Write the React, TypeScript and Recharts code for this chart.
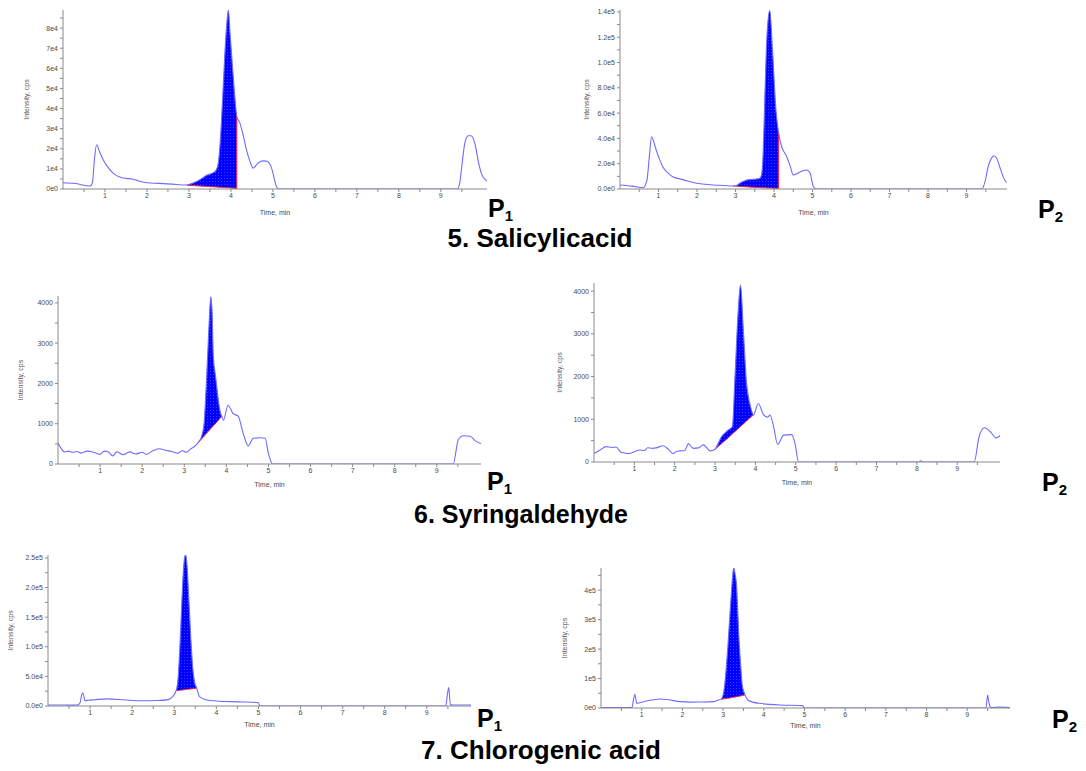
import React from 'react';
import {
  ComposedChart,
  Line,
  Area,
  XAxis,
  YAxis,
  ReferenceLine
} from 'recharts';

// ---- 5. Salicylic acid, P1
const salP1Time = [0, 0.3, 0.5, 0.65, 0.7, 0.75, 0.8, 0.88, 0.96, 1.1, 1.2, 1.35, 1.5, 1.65, 1.8, 2.0, 2.3, 2.6, 2.95, 3.1, 3.26, 3.42, 3.57, 3.65, 3.7, 3.75, 3.8, 3.85, 3.89, 3.94, 3.98, 4.04, 4.1, 4.14, 4.21, 4.3, 4.37, 4.45, 4.53, 4.61, 4.69, 4.78, 4.88, 4.95, 5.0, 5.05, 5.1, 5.14, 9.4, 9.45, 9.52, 9.57, 9.65, 9.72, 9.81, 9.9, 9.97, 10.05, 10.1];
const salP1Signal = [3100, 2700, 1900, 1500, 3000, 15000, 22000, 18000, 14400, 10000, 7800, 6000, 5300, 5000, 4000, 3100, 2800, 2400, 2000, 3000, 4600, 6800, 8000, 9500, 13000, 25000, 44000, 65000, 79000, 89000, 77000, 60000, 44000, 36000, 33000, 26000, 19400, 14000, 10400, 12000, 13600, 14000, 13600, 11500, 8000, 3500, 600, 0, 0, 3000, 15000, 22700, 26500, 26500, 22700, 13000, 7500, 4800, 4100];
const salP1PeakTime = [2.95, 3.1, 3.26, 3.42, 3.57, 3.65, 3.7, 3.75, 3.8, 3.85, 3.89, 3.94, 3.98, 4.04, 4.1, 4.14];
const salP1PeakBase = [1900, 1700, 1500, 1300, 1100, 1000, 900, 850, 800, 700, 650, 600, 500, 400, 300, 200];
const salP1Ticks = [0, 10000, 20000, 30000, 40000, 50000, 60000, 70000, 80000];
const salP1Labels = ['0e0', '1e4', '2e4', '3e4', '4e4', '5e4', '6e4', '7e4', '8e4'];

// ---- 5. Salicylic acid, P2
const salP2Time = [0, 0.3, 0.6, 0.7, 0.76, 0.82, 0.88, 0.94, 1.02, 1.11, 1.25, 1.37, 1.55, 1.72, 1.98, 2.2, 2.42, 2.7, 2.94, 3.05, 3.11, 3.24, 3.35, 3.46, 3.63, 3.68, 3.72, 3.76, 3.82, 3.89, 3.96, 4.05, 4.12, 4.2, 4.33, 4.42, 4.5, 4.62, 4.75, 4.85, 4.94, 5.02, 5.11, 9.4, 9.48, 9.56, 9.64, 9.71, 9.78, 9.86, 9.99, 10.04];
const salP2Signal = [3200, 2300, 1000, 7100, 25000, 41300, 37000, 30800, 24000, 17600, 12500, 9700, 8000, 6600, 4500, 3800, 3200, 2800, 2400, 3200, 4500, 6600, 7400, 7600, 8400, 12000, 30000, 70400, 123000, 141000, 110000, 62500, 44000, 33400, 25500, 18000, 11100, 12500, 14500, 15000, 12300, 2000, 0, 0, 6000, 17600, 24000, 26300, 24500, 17600, 7100, 5000];
const salP2PeakTime = [2.94, 3.05, 3.11, 3.24, 3.35, 3.46, 3.63, 3.68, 3.72, 3.76, 3.82, 3.89, 3.96, 4.05, 4.12];
const salP2PeakBase = [2400, 2200, 2000, 1800, 1600, 1400, 1100, 1000, 950, 900, 800, 700, 550, 400, 300];
const salP2Ticks = [0, 20000, 40000, 60000, 80000, 100000, 120000, 140000];
const salP2Labels = ['0.0e0', '2.0e4', '4.0e4', '6.0e4', '8.0e4', '1.0e5', '1.2e5', '1.4e5'];

// ---- 6. Syringaldehyde, P1
const syrP1Time = [0, 0.08, 0.15, 0.25, 0.35, 0.45, 0.55, 0.7, 0.85, 1.0, 1.1, 1.2, 1.3, 1.4, 1.55, 1.7, 1.85, 2.0, 2.1, 2.25, 2.4, 2.55, 2.7, 2.85, 2.95, 3.05, 3.15, 3.25, 3.35, 3.41, 3.47, 3.52, 3.56, 3.6, 3.63, 3.66, 3.69, 3.74, 3.78, 3.82, 3.86, 3.89, 3.93, 4.04, 4.16, 4.28, 4.4, 4.52, 4.64, 4.8, 4.92, 5.0, 5.1, 9.39, 9.51, 9.63, 9.79, 9.91, 10.05];
const syrP1Signal = [520, 380, 300, 320, 290, 310, 270, 320, 290, 240, 320, 300, 200, 300, 230, 300, 250, 290, 240, 330, 380, 340, 310, 270, 330, 290, 370, 440, 560, 680, 1000, 1900, 2800, 3700, 4150, 3800, 2660, 2200, 1840, 1500, 1270, 1180, 1090, 1460, 1250, 1190, 760, 450, 640, 650, 640, 260, 0, 0, 600, 700, 690, 580, 500];
const syrP1PeakTime = [3.25, 3.35, 3.41, 3.47, 3.52, 3.56, 3.6, 3.63, 3.66, 3.69, 3.74, 3.78, 3.82, 3.86, 3.89];
const syrP1PeakBase = [440, 550, 620, 690, 750, 800, 840, 880, 910, 950, 1000, 1050, 1100, 1140, 1180];
const syrTicks = [0, 1000, 2000, 3000, 4000];
const syrLabels = ['0', '1000', '2000', '3000', '4000'];

// ---- 6. Syringaldehyde, P2
const syrP2Time = [0, 0.15, 0.3, 0.45, 0.55, 0.67, 0.88, 1.0, 1.13, 1.25, 1.33, 1.45, 1.54, 1.71, 1.85, 1.96, 2.05, 2.13, 2.25, 2.34, 2.46, 2.59, 2.71, 2.88, 3.0, 3.16, 3.33, 3.43, 3.49, 3.57, 3.63, 3.7, 3.78, 3.86, 3.95, 4.07, 4.2, 4.3, 4.36, 4.45, 4.55, 4.7, 4.9, 4.98, 5.07, 8.05, 8.1, 8.15, 9.42, 9.54, 9.67, 9.84, 9.96, 10.06];
const syrP2Signal = [200, 280, 360, 340, 350, 230, 200, 240, 280, 270, 335, 320, 330, 380, 290, 200, 250, 260, 270, 430, 320, 330, 400, 260, 300, 590, 750, 830, 1920, 3480, 4140, 3090, 1840, 1370, 1100, 1370, 1110, 1050, 1100, 830, 410, 630, 640, 430, 0, 0, 30, 0, 0, 585, 800, 690, 560, 620];
const syrP2PeakTime = [3.0, 3.16, 3.33, 3.43, 3.49, 3.57, 3.63, 3.7, 3.78, 3.86, 3.95];
const syrP2PeakBase = [300, 430, 570, 660, 710, 780, 830, 890, 960, 1030, 1100];

// ---- 7. Chlorogenic acid, P1
const chlP1Time = [0, 0.4, 0.7, 0.76, 0.8, 0.83, 0.88, 0.96, 1.1, 1.4, 1.8, 2.2, 2.6, 2.85, 2.95, 3.05, 3.1, 3.14, 3.17, 3.21, 3.24, 3.27, 3.3, 3.35, 3.39, 3.44, 3.49, 3.53, 3.6, 3.7, 3.8, 4.0, 4.5, 4.95, 5.0, 5.03, 9.45, 9.49, 9.52, 9.56, 9.6, 10.05];
const chlP1Signal = [1600, 1600, 1500, 5000, 19000, 22000, 9000, 9800, 10500, 12000, 10500, 8800, 9200, 10800, 15000, 27000, 55000, 110000, 159000, 220000, 248000, 256000, 240000, 175000, 118000, 64000, 38000, 31000, 15700, 12000, 9800, 8500, 7000, 6000, 5500, 0, 0, 20000, 31000, 2500, 1600, 1600];
const chlP1PeakTime = [3.05, 3.1, 3.14, 3.17, 3.21, 3.24, 3.27, 3.3, 3.35, 3.39, 3.44, 3.49, 3.53];
const chlP1PeakBase = [26000, 26300, 26600, 26900, 27200, 27500, 27800, 28100, 28500, 28800, 29200, 29600, 30000];
const chlP1Ticks = [0, 50000, 100000, 150000, 200000, 250000];
const chlP1Labels = ['0.0e0', '5.0e4', '1.0e5', '1.5e5', '2.0e5', '2.5e5'];

// ---- 7. Chlorogenic acid, P2
const chlP2Time = [0, 0.4, 0.76, 0.8, 0.83, 0.88, 0.95, 1.12, 1.3, 1.45, 1.65, 1.94, 2.2, 2.43, 2.76, 2.88, 2.96, 3.04, 3.08, 3.12, 3.16, 3.2, 3.23, 3.26, 3.3, 3.33, 3.36, 3.39, 3.43, 3.47, 3.53, 3.61, 3.75, 3.9, 4.39, 4.96, 4.99, 9.46, 9.5, 9.53, 9.56, 9.6, 9.79, 10.05];
const chlP2Signal = [1500, 1500, 1500, 30000, 46400, 15900, 18000, 23700, 28000, 30500, 28000, 21500, 20000, 20300, 21500, 27100, 31000, 78000, 140000, 214000, 300000, 383000, 440000, 476000, 450000, 417000, 330000, 236000, 150000, 78000, 48000, 27000, 19000, 15900, 10200, 8000, 0, 0, 44000, 20000, 4500, 1500, 3000, 1500];
const chlP2PeakTime = [2.96, 3.04, 3.08, 3.12, 3.16, 3.2, 3.23, 3.26, 3.3, 3.33, 3.36, 3.39, 3.43, 3.47, 3.53];
const chlP2PeakBase = [30000, 31500, 32200, 33000, 34000, 35000, 35500, 36500, 37500, 38500, 39000, 40000, 41000, 42000, 44000];
const chlP2Ticks = [0, 100000, 200000, 300000, 400000];
const chlP2Labels = ['0e0', '1e5', '2e5', '3e5', '4e5'];

// shared time axis
const timeTicks = [0.5, 1, 1.5, 2, 2.5, 3, 3.5, 4, 4.5, 5, 5.5, 6, 6.5, 7, 7.5, 8, 8.5, 9, 9.5];

// compound captions
const captions = ['5. Salicylicacid', '6. Syringaldehyde', '7. Chlorogenic acid'];

const TICK_FONT = "'Liberation Sans Narrow', 'Liberation Sans', Arial, sans-serif";
const TRACE = '#6c6cff';
const BASE_RED = '#ff1f3a';

interface Box {
  left: number;
  plotLeft: number;
  plotRight: number;
  plotTop: number;
  plotBottom: number;
  yLabelX: number;
  xLabelDy: number;
}

interface PanelProps {
  id: string;
  time: number[];
  signal: number[];
  peakTime: number[];
  peakBase: number[];
  closeEnd: boolean;
  xMax: number;
  yMax: number;
  yTicks: number[];
  yLabels: string[];
  box: Box;
}

const Panel: React.FC<PanelProps> = ({
  id, time, signal, peakTime, peakBase, closeEnd, xMax, yMax, yTicks, yLabels, box
}) => {
  const rows = time.map((t, i) => {
    const k = peakTime.indexOf(t);
    const base = k >= 0 ? peakBase[k] : null;
    return { t, signal: signal[i], base, band: base === null ? null : [base, signal[i]] };
  });

  // half-step minor ticks between the labelled ones
  const step = yTicks[1] - yTicks[0];
  const allYTicks: number[] = [];
  yTicks.forEach(v => {
    allYTicks.push(v);
    if (v + step / 2 <= yMax) allYTicks.push(v + step / 2);
  });

  const lastT = peakTime[peakTime.length - 1];
  const lastBase = peakBase[peakBase.length - 1];
  const lastTop = signal[time.indexOf(lastT)];

  const marginTop = 4;
  const marginRight = 8;
  const axisH = 30;
  const top = box.plotTop - marginTop;
  const width = box.plotRight + marginRight - box.left;
  const height = box.plotBottom - top + axisH;

  return (
    <div style={{ position: 'absolute', left: box.left, top, width, height }}>
      <ComposedChart
        width={width}
        height={height}
        data={rows}
        margin={{ top: marginTop, right: marginRight, left: 0, bottom: 0 }}
        style={{ fontFamily: TICK_FONT }}
      >
        <defs>
          <pattern id={`dots-${id}`} width={3} height={3} patternUnits="userSpaceOnUse">
            <rect width={3} height={3} fill="#0000ff" />
            <circle cx={1.5} cy={1.5} r={0.45} fill="#7a7aff" />
          </pattern>
        </defs>
        <XAxis
          dataKey="t"
          type="number"
          domain={[0, xMax]}
          ticks={timeTicks}
          tickFormatter={(v: number) => (Number.isInteger(v) ? String(v) : '')}
          allowDataOverflow
          height={axisH}
          tickSize={3}
          tickMargin={1}
          axisLine={{ stroke: '#8a8a8a' }}
          tickLine={{ stroke: '#8a8a8a' }}
          tick={{ fontSize: 7, fill: '#4a4a4a' }}
          label={{
            value: 'Time, min',
            position: 'insideBottom',
            offset: axisH - box.xLabelDy,
            fontSize: 7,
            fill: '#4a4a4a'
          }}
        />
        <YAxis
          type="number"
          domain={[0, yMax]}
          ticks={allYTicks}
          tickFormatter={(v: number) => {
            const k = yTicks.indexOf(v);
            return k >= 0 ? yLabels[k] : '';
          }}
          allowDataOverflow
          width={box.plotLeft - box.left}
          tickSize={3}
          tickMargin={2}
          axisLine={{ stroke: '#8a8a8a' }}
          tickLine={{ stroke: '#8a8a8a' }}
          tick={{ fontSize: 7, fill: '#4a4a4a' }}
          label={{
            value: 'Intensity, cps',
            angle: -90,
            position: 'insideLeft',
            offset: box.yLabelX - box.left,
            fontSize: 7,
            fill: '#5a5a5a',
            style: { textAnchor: 'middle' }
          }}
        />
        <Area
          dataKey="band"
          type="monotone"
          stroke="none"
          fill={`url(#dots-${id})`}
          fillOpacity={1}
          isAnimationActive={false}
        />
        <Line
          dataKey="base"
          type="linear"
          stroke={BASE_RED}
          strokeWidth={1}
          dot={false}
          activeDot={false}
          isAnimationActive={false}
        />
        <Line
          dataKey="signal"
          type="monotone"
          stroke={TRACE}
          strokeWidth={1.1}
          dot={false}
          activeDot={false}
          isAnimationActive={false}
        />
        {closeEnd && (
          <ReferenceLine
            segment={[{ x: lastT, y: lastBase }, { x: lastT, y: lastTop }]}
            stroke={BASE_RED}
            strokeWidth={1}
          />
        )}
      </ComposedChart>
    </div>
  );
};

const PLabel: React.FC<{ x: number; y: number; n: string }> = ({ x, y, n }) => (
  <text x={x} y={y} fontSize={25} fontWeight="bold" fill="#000">
    P<tspan fontSize={15} dy={4}>{n}</tspan>
  </text>
);

const App: React.FC = () => {
  return (
    <div
      style={{
        position: 'absolute',
        left: 0,
        top: 0,
        width: 1086,
        height: 771,
        background: '#fff',
        fontFamily: "'Liberation Sans', Arial, sans-serif"
      }}
    >
      <Panel
        id="a"
        time={salP1Time}
        signal={salP1Signal}
        peakTime={salP1PeakTime}
        peakBase={salP1PeakBase}
        closeEnd
        xMax={10.1}
        yMax={89000}
        yTicks={salP1Ticks}
        yLabels={salP1Labels}
        box={{ left: 10, plotLeft: 63, plotRight: 487, plotTop: 10, plotBottom: 189, yLabelX: 27, xLabelDy: 26 }}
      />
      <Panel
        id="b"
        time={salP2Time}
        signal={salP2Signal}
        peakTime={salP2PeakTime}
        peakBase={salP2PeakBase}
        closeEnd
        xMax={10.05}
        yMax={141500}
        yTicks={salP2Ticks}
        yLabels={salP2Labels}
        box={{ left: 560, plotLeft: 620, plotRight: 1007, plotTop: 10, plotBottom: 189, yLabelX: 587, xLabelDy: 26 }}
      />
      <Panel
        id="c"
        time={syrP1Time}
        signal={syrP1Signal}
        peakTime={syrP1PeakTime}
        peakBase={syrP1PeakBase}
        closeEnd={false}
        xMax={10.05}
        yMax={4170}
        yTicks={syrTicks}
        yLabels={syrLabels}
        box={{ left: 5, plotLeft: 58, plotRight: 481, plotTop: 296, plotBottom: 464, yLabelX: 21, xLabelDy: 23 }}
      />
      <Panel
        id="d"
        time={syrP2Time}
        signal={syrP2Signal}
        peakTime={syrP2PeakTime}
        peakBase={syrP2PeakBase}
        closeEnd={false}
        xMax={10.06}
        yMax={4190}
        yTicks={syrTicks}
        yLabels={syrLabels}
        box={{ left: 540, plotLeft: 594, plotRight: 1000, plotTop: 283, plotBottom: 462, yLabelX: 560, xLabelDy: 23 }}
      />
      <Panel
        id="e"
        time={chlP1Time}
        signal={chlP1Signal}
        peakTime={chlP1PeakTime}
        peakBase={chlP1PeakBase}
        closeEnd={false}
        xMax={10.05}
        yMax={255000}
        yTicks={chlP1Ticks}
        yLabels={chlP1Labels}
        box={{ left: 0, plotLeft: 48, plotRight: 471, plotTop: 555, plotBottom: 706, yLabelX: 11, xLabelDy: 21 }}
      />
      <Panel
        id="f"
        time={chlP2Time}
        signal={chlP2Signal}
        peakTime={chlP2PeakTime}
        peakBase={chlP2PeakBase}
        closeEnd={false}
        xMax={10.05}
        yMax={475000}
        yTicks={chlP2Ticks}
        yLabels={chlP2Labels}
        box={{ left: 540, plotLeft: 601, plotRight: 1010, plotTop: 568, plotBottom: 708, yLabelX: 565, xLabelDy: 20 }}
      />

      <svg
        width={1086}
        height={771}
        style={{ position: 'absolute', left: 0, top: 0, pointerEvents: 'none' }}
      >
        <PLabel x={488} y={217} n="1" />
        <PLabel x={1038} y={218} n="2" />
        <PLabel x={487} y={490} n="1" />
        <PLabel x={1042} y={491} n="2" />
        <PLabel x={477} y={727} n="1" />
        <PLabel x={1052} y={728} n="2" />
        <text x={540} y={247} fontSize={26} fontWeight="bold" textAnchor="middle">{captions[0]}</text>
        <text x={521} y={523} fontSize={25} fontWeight="bold" textAnchor="middle">{captions[1]}</text>
        <text x={541} y={759} fontSize={26} fontWeight="bold" textAnchor="middle">{captions[2]}</text>
      </svg>
    </div>
  );
};

export default App;
